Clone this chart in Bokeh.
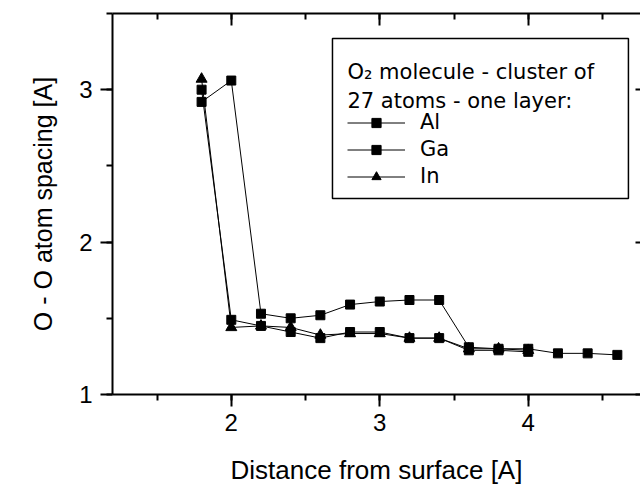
from bokeh.plotting import figure
from bokeh.models import (LinearAxis, SingleIntervalTicker, Range1d, Legend,
                          LegendItem, Label, BoxAnnotation, CustomJSTickFormatter, Title)
from bokeh.embed import file_html
from bokeh.resources import INLINE

# ---- data ----
dist_al = [1.8, 2.0, 2.2, 2.4, 2.6, 2.8, 3.0, 3.2, 3.4, 3.6, 3.8, 4.0, 4.2, 4.4, 4.6]
spacing_al = [2.92, 3.06, 1.53, 1.50, 1.52, 1.59, 1.61, 1.62, 1.62, 1.31, 1.30, 1.30, 1.27, 1.27, 1.26]

dist_ga = [1.8, 2.0, 2.2, 2.4, 2.6, 2.8, 3.0, 3.2, 3.4, 3.6, 3.8, 4.0]
spacing_ga = [3.00, 1.49, 1.45, 1.41, 1.37, 1.41, 1.41, 1.37, 1.37, 1.29, 1.29, 1.28]

dist_in = [1.8, 2.0, 2.2, 2.4, 2.6, 2.8, 3.0, 3.2, 3.4, 3.6, 3.8, 4.0]
spacing_in = [3.07, 1.44, 1.45, 1.44, 1.39, 1.40, 1.40, 1.37, 1.37, 1.30, 1.30, 1.29]

series_labels = ["Al", "Ga", "In"]
legend_title_1 = "O\u2082 molecule - cluster of"
legend_title_2 = "27 atoms - one layer:"
x_title = "Distance from surface [A]"
y_title = "O - O atom spacing [A]"

FONT = "Liberation Sans"
LFONT = "DejaVu Sans"

p = figure(width=640, height=490, output_backend="svg", toolbar_location=None,
           x_range=Range1d(1.2, 4.756), y_range=Range1d(1.0, 3.5),
           min_border_left=112, min_border_right=0, min_border_top=13,
           min_border_bottom=96)
p.grid.visible = False
p.outline_line_color = None
p.background_fill_color = "white"
p.border_fill_color = "white"

xt = SingleIntervalTicker(interval=1, num_minor_ticks=2)
yt = SingleIntervalTicker(interval=1, num_minor_ticks=2)

for ax in (p.xaxis[0], p.yaxis[0]):
    ax.axis_line_width = 2
    ax.axis_line_color = "black"
    ax.major_tick_line_width = 2
    ax.minor_tick_line_width = 2
    ax.major_tick_line_color = "black"
    ax.minor_tick_line_color = "black"
    ax.major_tick_out = 12
    ax.major_tick_in = 0
    ax.minor_tick_out = 6
    ax.minor_tick_in = 0
    ax.major_label_text_font = FONT
    ax.major_label_text_font_size = "24px"
    ax.major_label_text_color = "black"
    ax.axis_label_text_font = FONT
    ax.axis_label_text_font_style = "normal"
    ax.axis_label_text_color = "black"

p.xaxis[0].ticker = xt
p.yaxis[0].ticker = yt
p.xaxis[0].axis_label = x_title
p.xaxis[0].axis_label_text_font_size = "26px"
p.xaxis[0].major_label_standoff = 7
p.yaxis[0].major_label_standoff = 8
p.xaxis[0].axis_label_standoff = 21

# y-axis title as a side title, shifted a little below the frame centre
p.add_layout(Title(text=y_title, align="center", vertical_align="top", offset=-23,
                   standoff=36, text_font=FONT, text_font_size="25px",
                   text_font_style="normal", text_color="black"), "left")

blank = CustomJSTickFormatter(code="return ''")
top = LinearAxis(ticker=xt, formatter=blank, major_label_text_font_size="1px",
                 major_label_standoff=0,
                 major_tick_in=12, major_tick_out=0, minor_tick_in=6, minor_tick_out=0,
                 axis_line_width=2, major_tick_line_width=2, minor_tick_line_width=2,
                 axis_line_color="black", major_tick_line_color="black",
                 minor_tick_line_color="black")
p.add_layout(top, "above")
right = LinearAxis(ticker=yt, formatter=blank, major_label_text_font_size="1px",
                   major_label_standoff=0,
                   major_tick_in=5, major_tick_out=0, minor_tick_in=0, minor_tick_out=0,
                   axis_line_color=None, major_tick_line_width=2,
                   major_tick_line_color="black")
p.add_layout(right, "right")

# ---- series ----
al_l = p.line(dist_al, spacing_al, line_color="black", line_width=1)
al_m = p.scatter(dist_al, spacing_al, marker="square", size=9, color="black")
ga_l = p.line(dist_ga, spacing_ga, line_color="black", line_width=1)
ga_m = p.scatter(dist_ga, spacing_ga, marker="square", size=9, color="black")
in_l = p.line(dist_in, spacing_in, line_color="black", line_width=1)
in_m = p.scatter(dist_in, spacing_in, marker="triangle", size=11, color="black")

# ---- legend box ----
box = BoxAnnotation(left=2.6815, right=4.6747, top=3.336, bottom=2.286,
                    fill_color="white", fill_alpha=1, line_color="black",
                    line_width=1.5, line_alpha=1)
p.add_layout(box)

for txt, yy in ((legend_title_1, 3.113), (legend_title_2, 2.929)):
    p.add_layout(Label(x=2.7825, y=yy, text=txt, text_font=LFONT, text_font_size="21px",
                       text_color="black", text_baseline="alphabetic"))

legend = Legend(items=[LegendItem(label=series_labels[0], renderers=[al_l, al_m]),
                       LegendItem(label=series_labels[1], renderers=[ga_l, ga_m]),
                       LegendItem(label=series_labels[2], renderers=[in_l, in_m])],
                location=(235, 206), padding=0, margin=0, spacing=3,
                glyph_width=58, glyph_height=23, label_height=23, label_standoff=15,
                label_text_font=LFONT, label_text_font_size="21px",
                label_text_color="black", border_line_color=None,
                background_fill_alpha=0)
p.add_layout(legend)

open("out.html", "w").write(file_html(p, INLINE))
